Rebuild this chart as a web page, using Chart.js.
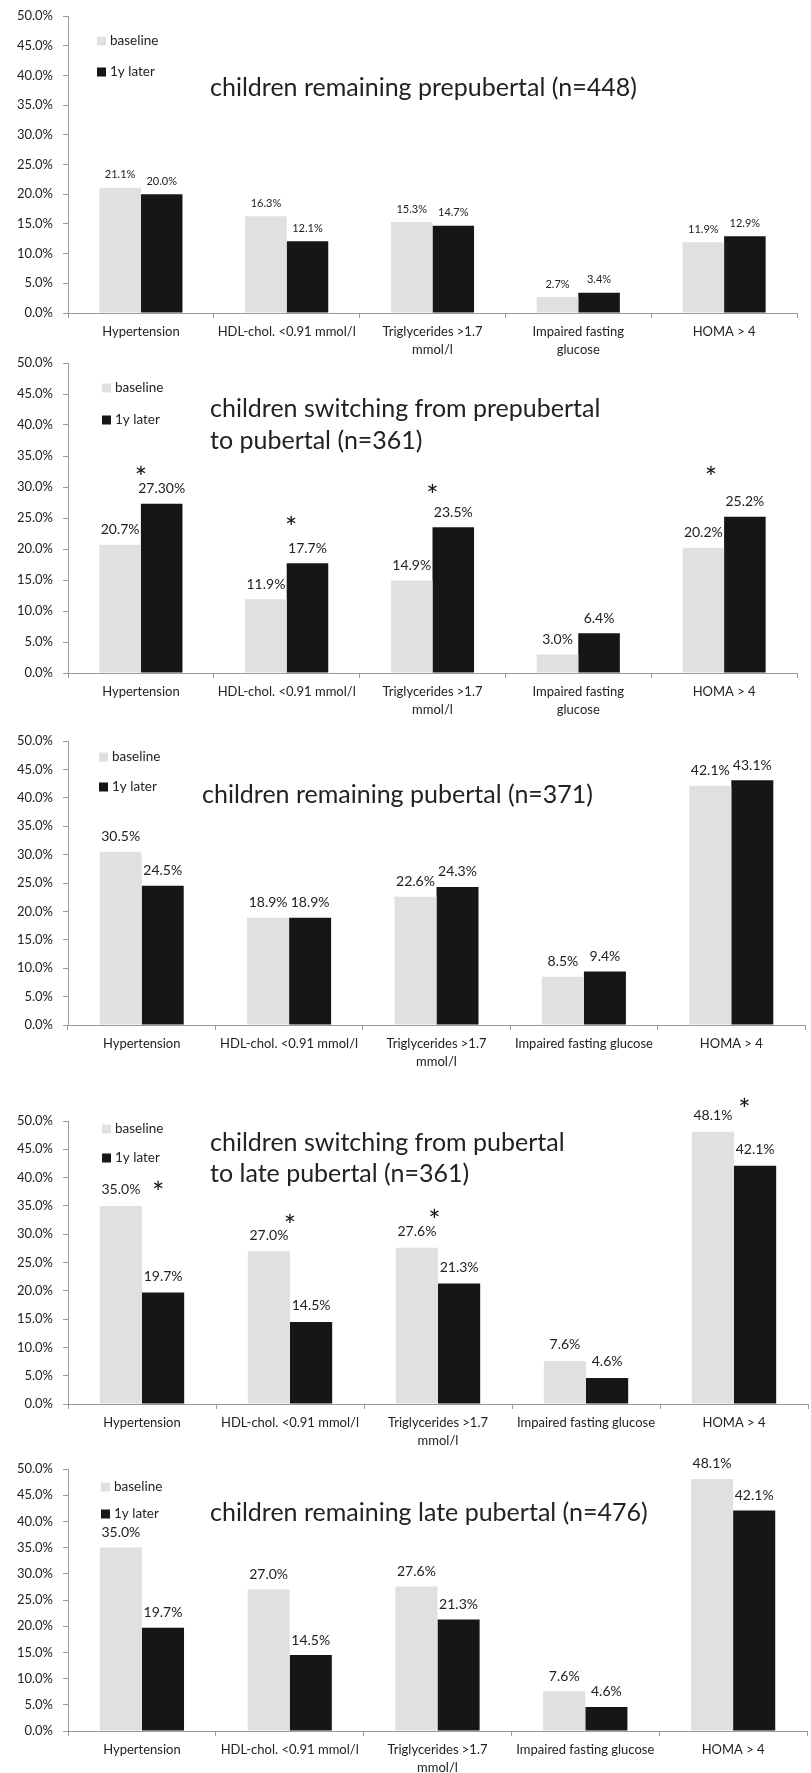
<!DOCTYPE html>
<html>
<head>
<meta charset="utf-8">
<script src="https://cdn.jsdelivr.net/npm/chart.js@4.4.1/dist/chart.umd.min.js"></script>
<style>
  html, body { margin: 0; padding: 0; background: #fff; }
  #page { position: relative; width: 811px; height: 1773px; overflow: hidden; background: #fff; }
  #page canvas { position: absolute; left: 0; }
</style>
</head>
<body>
<div id="page"></div>
<script>
// ---- categories and tick labels ----
const categories = ['Hypertension', 'HDL-chol. <0.91 mmol/l', 'Triglycerides >1.7 mmol/l', 'Impaired fasting glucose', 'HOMA > 4'];
const tickLabelsNarrow = [['Hypertension'], ['HDL-chol. <0.91 mmol/l'], ['Triglycerides >1.7', 'mmol/l'], ['Impaired fasting', 'glucose'], ['HOMA > 4']];
const tickLabelsWide = [['Hypertension'], ['HDL-chol. <0.91 mmol/l'], ['Triglycerides >1.7', 'mmol/l'], ['Impaired fasting glucose'], ['HOMA > 4']];
const seriesNames = ['baseline', '1y later'];
const yMin = 0, yMax = 50, yStep = 5;

// ---- prevalence (%) per group ----
const prepubertalBaseline = [21.1, 16.3, 15.3, 2.7, 11.9];
const prepubertalLater = [20.0, 12.1, 14.7, 3.4, 12.9];

const toPubertalBaseline = [20.7, 11.9, 14.9, 3.0, 20.2];
const toPubertalLater = [27.3, 17.7, 23.5, 6.4, 25.2];
const toPubertalLaterDecimals = [2, 1, 1, 1, 1];

const pubertalBaseline = [30.5, 18.9, 22.6, 8.5, 42.1];
const pubertalLater = [24.5, 18.9, 24.3, 9.4, 43.1];

const toLateBaseline = [35.0, 27.0, 27.6, 7.6, 48.1];
const toLateLater = [19.7, 14.5, 21.3, 4.6, 42.1];

const latePubertalBaseline = [35.0, 27.0, 27.6, 7.6, 48.1];
const latePubertalLater = [19.7, 14.5, 21.3, 4.6, 42.1];

// significance markers: [category position, level in %]
const toPubertalStars = [[0, 32.7], [1.03, 24.7], [2, 29.8], [3.91, 32.7]];
const toLateStars = [[0.11, 38.7], [1, 32.8], [1.975, 33.8], [4.07, 53.4]];

// ---- panel titles ----
const titlePrepubertal = ['children remaining prepubertal (n=448)'];
const titleToPubertal = ['children switching from prepubertal', 'to pubertal (n=361)'];
const titlePubertal = ['children remaining pubertal (n=371)'];
const titleToLate = ['children switching from pubertal', 'to late pubertal (n=361)'];
const titleLate = ['children remaining late pubertal (n=476)'];

// ---- styling ----
const FONT = 'Lato, "Open Sans", sans-serif';
const TEXT = '#222222';
const AXIS = '#9a9a9a';
const BASE_COLOR = '#e0e0e0';
const LATER_COLOR = '#161616';

const panels = [
  { title: titlePrepubertal, base: prepubertalBaseline, later: prepubertalLater, ticks: tickLabelsNarrow,
    top: 16, bottom: 313, right: 797, valueFont: 11, valueGap: 13,
    legend: { x: 97, y: [41, 72] }, titleX: 210, titleY: [96] },
  { title: titleToPubertal, base: toPubertalBaseline, later: toPubertalLater, laterDecimals: toPubertalLaterDecimals,
    ticks: tickLabelsNarrow, stars: toPubertalStars,
    top: 363, bottom: 673, right: 797, valueFont: 14, valueGap: 15,
    legend: { x: 102, y: [388, 420] }, titleX: 210, titleY: [417, 449] },
  { title: titlePubertal, base: pubertalBaseline, later: pubertalLater, ticks: tickLabelsWide,
    top: 741, bottom: 1025, right: 805, valueFont: 14, valueGap: 15,
    legend: { x: 99, y: [757, 787] }, titleX: 202, titleY: [803] },
  { title: titleToLate, base: toLateBaseline, later: toLateLater, ticks: tickLabelsWide, stars: toLateStars,
    top: 1121, bottom: 1404, right: 808, valueFont: 14, valueGap: 16,
    legend: { x: 102, y: [1129, 1158] }, titleX: 210, titleY: [1151, 1182] },
  { title: titleLate, base: latePubertalBaseline, later: latePubertalLater, ticks: tickLabelsWide,
    top: 1469, bottom: 1731, right: 807, valueFont: 14, valueGap: 15,
    legend: { x: 101, y: [1487, 1514] }, titleX: 210, titleY: [1521] }
];

const AXIS_X = 68;
const ABOVE = 34;   // canvas space above the 50% line
const BELOW = 40;   // canvas space below the 0% line

function fmt(v, d) { return v.toFixed(d == null ? 1 : d) + '%'; }

const annotate = {
  id: 'annotate',
  afterDraw(chart, args, o) {
    const ctx = chart.ctx;
    const xs = chart.scales.x, ys = chart.scales.y;
    const off = o.canvasTop;
    ctx.save();
    ctx.fillStyle = TEXT;

    // value labels above each bar
    ctx.font = o.valueFont + 'px ' + FONT;
    ctx.textAlign = 'center';
    ctx.textBaseline = 'middle';
    chart.data.datasets.forEach((ds, i) => {
      chart.getDatasetMeta(i).data.forEach((bar, j) => {
        const d = ds.decimals ? ds.decimals[j] : 1;
        ctx.fillText(fmt(ds.data[j], d), bar.x, bar.y - o.valueGap);
      });
    });

    // significance asterisks
    if (o.stars) {
      ctx.font = '29px ' + FONT;
      ctx.fillStyle = '#111';
      ctx.textBaseline = 'alphabetic';
      const m = ctx.measureText('*');
      const shift = (m.actualBoundingBoxAscent - m.actualBoundingBoxDescent) / 2;
      o.stars.forEach(([c, lvl]) => {
        ctx.fillText('*', xs.getPixelForValue(c), ys.getPixelForValue(lvl) + shift);
      });
      ctx.fillStyle = TEXT;
    }

    // legend
    ctx.font = '13.5px ' + FONT;
    ctx.textAlign = 'left';
    ctx.textBaseline = 'middle';
    chart.data.datasets.forEach((ds, i) => {
      const y = o.legend.y[i] - off;
      ctx.fillStyle = ds.backgroundColor;
      ctx.fillRect(o.legend.x, y - 4.5, 9, 9);
      ctx.fillStyle = TEXT;
      ctx.fillText(ds.label, o.legend.x + 13, y);
    });

    // panel title
    ctx.font = '25px ' + FONT;
    ctx.textBaseline = 'alphabetic';
    o.title.forEach((line, k) => ctx.fillText(line, o.titleX, o.titleY[k] - off));
    ctx.restore();
  }
};

function build(p) {
  const canvasTop = p.top - ABOVE;
  const xAxisHeight = BELOW + 22;
  const height = (p.bottom - p.top) + ABOVE + xAxisHeight;
  const cv = document.createElement('canvas');
  cv.width = 811; cv.height = height;
  cv.style.top = canvasTop + 'px';
  cv.style.width = '811px'; cv.style.height = height + 'px';
  document.getElementById('page').appendChild(cv);

  new Chart(cv, {
    type: 'bar',
    data: {
      labels: p.ticks,
      datasets: [
        { label: seriesNames[0], data: p.base, backgroundColor: BASE_COLOR },
        { label: seriesNames[1], data: p.later, backgroundColor: LATER_COLOR, decimals: p.laterDecimals }
      ]
    },
    options: {
      responsive: false,
      maintainAspectRatio: false,
      animation: false,
      devicePixelRatio: 1,
      layout: { padding: { top: ABOVE, left: 0, right: 811 - p.right, bottom: 0 } },
      datasets: { bar: { categoryPercentage: 0.57, barPercentage: 1.0, borderWidth: 0 } },
      plugins: {
        legend: { display: false },
        tooltip: { enabled: false },
        annotate: {
          canvasTop, valueFont: p.valueFont, valueGap: p.valueGap, stars: p.stars,
          legend: p.legend, title: p.title, titleX: p.titleX, titleY: p.titleY
        }
      },
      scales: {
        x: {
          offset: true,
          grid: { display: true, drawOnChartArea: false, drawTicks: true, tickLength: 5, color: AXIS, offset: true },
          border: { display: true, color: AXIS, width: 1 },
          ticks: { color: TEXT, font: { family: FONT, size: 13, lineHeight: 1.4 }, padding: 5,
                   autoSkip: false, maxRotation: 0, minRotation: 0 },
          afterFit(s) { s.height = xAxisHeight; }
        },
        y: {
          min: yMin, max: yMax,
          grid: { display: true, drawOnChartArea: false, drawTicks: true, tickLength: 5, color: AXIS },
          border: { display: true, color: AXIS, width: 1 },
          ticks: { stepSize: yStep, color: TEXT, font: { family: FONT, size: 13 }, padding: 10,
                   callback: v => v.toFixed(1) + '%' },
          afterFit(s) { s.width = AXIS_X; }
        }
      }
    },
    plugins: [annotate]
  });
}

function drawAll() { panels.forEach(build); }
if (document.fonts && document.fonts.load) {
  document.fonts.load('13px Lato').then(drawAll, drawAll);
} else {
  drawAll();
}
</script>
</body>
</html>
